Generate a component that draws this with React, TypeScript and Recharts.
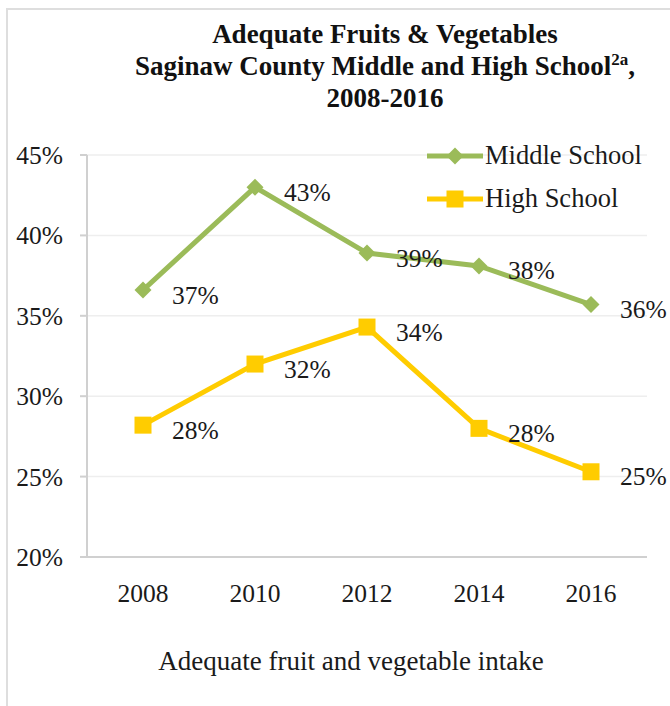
import React from "react";
import { LineChart, Line, XAxis, YAxis, CartesianGrid, LabelList } from "recharts";

// values (percent)
const years = ["2008", "2010", "2012", "2014", "2016"];
const middleSchool = [36.6, 43.0, 38.9, 38.1, 35.7];
const highSchool = [28.2, 32.0, 34.3, 28.0, 25.3];
const yTicks = [20, 25, 30, 35, 40, 45];

const data = years.map((year, i) => ({ year, middle: middleSchool[i], high: highSchool[i] }));

const FONT = "Liberation Serif";
const GREEN = "#9BBB59";
const YELLOW = "#FFCC00";
const AXIS = "#d0d0d0";
const INK = "#1a1a1a";

const DiamondDot = (props: any) => {
  const { cx, cy } = props;
  if (cx == null || cy == null) return null;
  const r = 8.5;
  return <path d={`M${cx} ${cy - r}L${cx + r} ${cy}L${cx} ${cy + r}L${cx - r} ${cy}Z`} fill={GREEN} />;
};

const SquareDot = (props: any) => {
  const { cx, cy } = props;
  if (cx == null || cy == null) return null;
  const s = 17;
  return <rect x={cx - s / 2} y={cy - s / 2} width={s} height={s} fill={YELLOW} />;
};

const pointLabel = (props: any) => {
  const { x, y, value } = props;
  return (
    <text x={x + 29} y={y + 5} dominantBaseline="central" fontSize={25.5} fontFamily={FONT} fill={INK}>
      {Math.round(value)}%
    </text>
  );
};

// axis title sits a little left of the plot centre in the original
const axisTitle = (props: any) => {
  const { viewBox } = props;
  return (
    <text x={viewBox.x + viewBox.width / 2 - 16} y={viewBox.y + viewBox.height + 53} textAnchor="middle" fontSize={27} fontFamily={FONT} fill={INK}>
      Adequate fruit and vegetable intake
    </text>
  );
};

const series = [
  { name: "Middle School", color: GREEN, shape: "diamond" },
  { name: "High School", color: YELLOW, shape: "square" },
];

const LegendBox = () => (
  <div style={{ position: "absolute", left: 427, top: 134 }}>
    {series.map((s) => (
      <div key={s.name} style={{ display: "flex", alignItems: "center", height: 43 }}>
        <svg width={58} height={20}>
          <line x1={0} y1={10} x2={56} y2={10} stroke={s.color} strokeWidth={5} />
          {s.shape === "diamond" ? (
            <path d="M28 1.5L36.5 10L28 18.5L19.5 10Z" fill={s.color} />
          ) : (
            <rect x={19.5} y={1.5} width={17} height={17} fill={s.color} />
          )}
        </svg>
        <span style={{ fontFamily: FONT, fontSize: 26.5, color: INK, marginLeft: 0 }}>{s.name}</span>
      </div>
    ))}
  </div>
);

export default function App() {
  return (
    <div style={{ position: "absolute", left: 0, top: 0, width: 670, height: 706, background: "#fff", overflow: "hidden" }}>
      <div style={{ position: "absolute", left: 6, top: 8, right: 0, bottom: 0, borderTop: "2px solid #dedede", borderLeft: "2px solid #dedede" }} />
      <div
        style={{
          position: "absolute",
          left: 85,
          width: 600,
          top: 18,
          textAlign: "center",
          fontFamily: FONT,
          fontWeight: "bold",
          fontSize: 27,
          lineHeight: "32px",
          color: "#111",
        }}
      >
        <div>Adequate Fruits &amp; Vegetables</div>
        <div>
          Saginaw County Middle and High School<sup style={{ fontSize: 17, lineHeight: 0 }}>2a</sup>,
        </div>
        <div>2008-2016</div>
      </div>
      <LineChart width={670} height={706} data={data} margin={{ top: 155, right: 23, bottom: 89, left: 0 }} style={{ position: "absolute", left: 0, top: 0 }}>
        <CartesianGrid vertical={false} stroke="#eeeeee" strokeWidth={1.5} />
        <XAxis
          dataKey="year"
          padding={{ left: 56, right: 56 }}
          axisLine={{ stroke: AXIS, strokeWidth: 2 }}
          tickLine={false}
          tickSize={0}
          tickMargin={27}
          height={60}
          tick={{ fontSize: 25.5, fontFamily: FONT, fill: INK }}
          label={axisTitle}
        />
        <YAxis
          domain={[20, 45]}
          ticks={yTicks}
          width={87}
          tickFormatter={(v) => `${v}%`}
          axisLine={{ stroke: AXIS, strokeWidth: 2 }}
          tickLine={{ stroke: AXIS, strokeWidth: 2 }}
          tickSize={7}
          tickMargin={17}
          tick={{ fontSize: 25.5, fontFamily: FONT, fill: INK }}
        />
        <Line dataKey="middle" name="Middle School" stroke={GREEN} strokeWidth={5} dot={<DiamondDot />} activeDot={false} isAnimationActive={false}>
          <LabelList dataKey="middle" content={pointLabel} />
        </Line>
        <Line dataKey="high" name="High School" stroke={YELLOW} strokeWidth={5} dot={<SquareDot />} activeDot={false} isAnimationActive={false}>
          <LabelList dataKey="high" content={pointLabel} />
        </Line>
      </LineChart>
      <LegendBox />
    </div>
  );
}
